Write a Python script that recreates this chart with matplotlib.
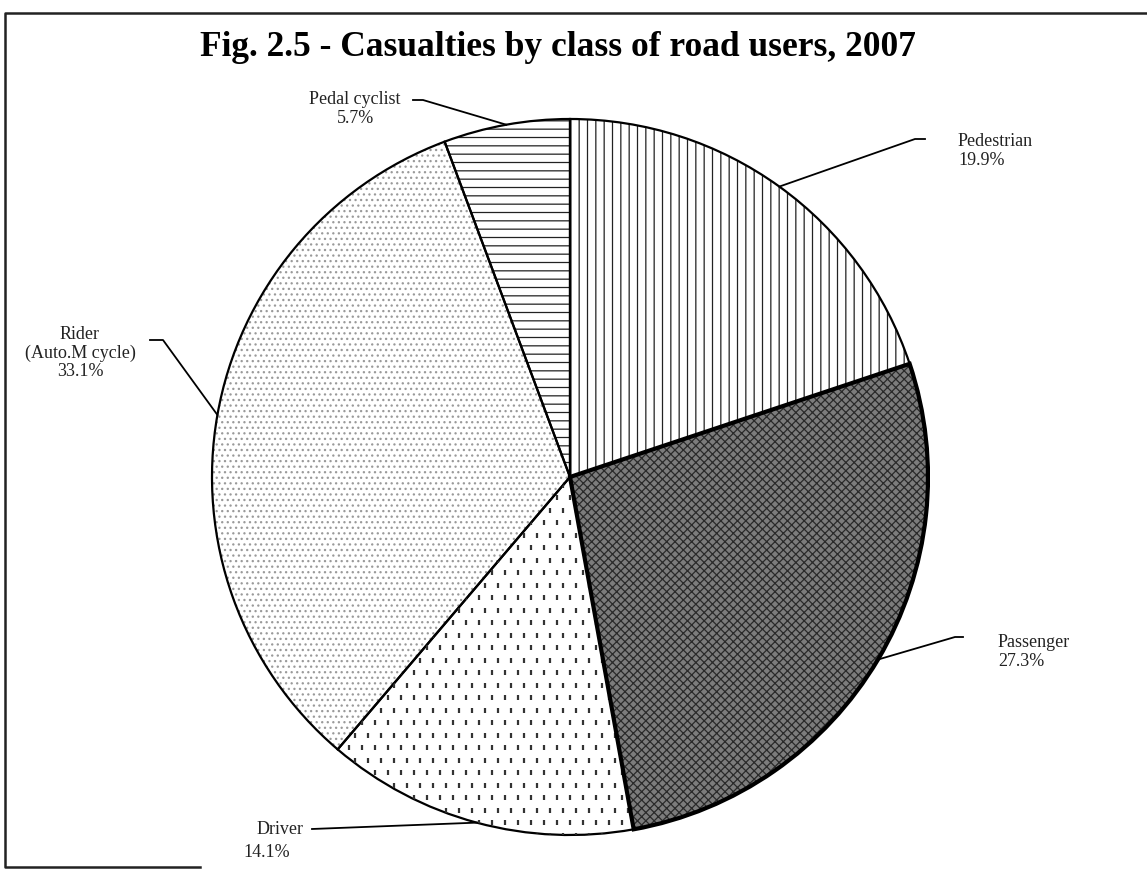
import numpy as np
import matplotlib.pyplot as plt
from matplotlib.collections import LineCollection

plt.rcParams['font.family'] = ['Liberation Serif', 'DejaVu Serif']
plt.rcParams['hatch.linewidth'] = 0.9

# dados do gráfico
categorias = ['Pedestrian', 'Passenger', 'Driver', 'Rider\n(Auto.M cycle)', 'Pedal cyclist']
valores = [19.9, 27.3, 14.1, 33.1, 5.7]
titulo = 'Fig. 2.5 - Casualties by class of road users, 2007'

# figura em pixels: 1 unidade = 1 pixel
fig = plt.figure(figsize=(11.47, 8.70), dpi=100)
ax = fig.add_axes([0, 0, 1, 1])

H = 870
cx, cy, R = 570, H - 478, 358

hatches = ['||', 'xxxx', '', '...', '--']
faces = ['white', '#7c7c7c', 'white', 'white', 'white']
hcols = ['#222222', '#2a2a2a', 'white', '#9a9a9a', '#222222']

wedges, _ = ax.pie(valores, startangle=90, counterclock=False, radius=R,
                   center=(cx, cy), frame=True)
for w, h, fc, hc in zip(wedges, hatches, faces, hcols):
    w.set_facecolor(fc)
    w.set_hatch(h)
    w.set_edgecolor(hc)
    w.set_linewidth(0)

# textura de traços curtos para Driver
segs = []
for j, yy in enumerate(np.arange(cy - R, cy + R, 12.5)):
    off = 6.5 if j % 2 else 0
    for xx in np.arange(cx - R + off, cx + R, 13):
        segs.append([(xx, yy - 2.5), (xx, yy + 2.5)])
lc = LineCollection(segs, colors='#333333', linewidths=1.6)
ax.add_collection(lc)
lc.set_clip_path(wedges[2])

# contornos
outl, _ = ax.pie(valores, startangle=90, counterclock=False, radius=R,
                 center=(cx, cy), frame=True,
                 wedgeprops=dict(fill=False, edgecolor='black', linewidth=1.6))
outl[1].set_linewidth(3.0)
outl[1].set_zorder(outl[1].get_zorder() + 1)

ax.set_xlim(0, 1147)
ax.set_ylim(0, 870)
ax.set_aspect('equal')
ax.axis('off')

# posições dos rótulos (pixels, y medido do topo)
cotovelos = [(915, 140), (955, 638), (312, 830), (163, 341), (423, 101)]
pontas = [(925, 140), (963, 638), (312, 830), (150, 341), (413, 101)]
textos = [(958, 151, 'left'), (998, 652, 'left'), (272, 841, 'center'),
          (80, 353, 'center'), (355, 109, 'center')]

for w, cat, v, cot, pt, tx in zip(wedges, categorias, valores, cotovelos, pontas, textos):
    ang = np.deg2rad((w.theta1 + w.theta2) / 2)
    xm = cx + R * np.cos(ang)
    ym = cy + R * np.sin(ang)
    ax.plot([xm, cot[0], pt[0]], [ym, H - cot[1], H - pt[1]], color='black', lw=1.3)
    if cat == 'Driver':
        ax.text(304, H - 830, cat, ha='right', va='center', fontsize=13, color='#222222')
        ax.text(267, H - 853, f'{v:.1f}%', ha='center', va='center', fontsize=13, color='#222222')
    else:
        ax.text(tx[0], H - tx[1], f'{cat}\n{v:.1f}%', ha=tx[2], va='center',
                multialignment=tx[2], fontsize=13, color='#222222', linespacing=1.1)

# título
ax.text(558, H - 47, titulo, ha='center', va='center', fontsize=25.5,
        fontweight='bold', color='black')

# moldura
ax.plot([1150, 5, 5, 200], [H - 14, H - 14, H - 868, H - 868], color='#222222',
        lw=1.8, clip_on=False)

fig.savefig('out.png', dpi=100)
